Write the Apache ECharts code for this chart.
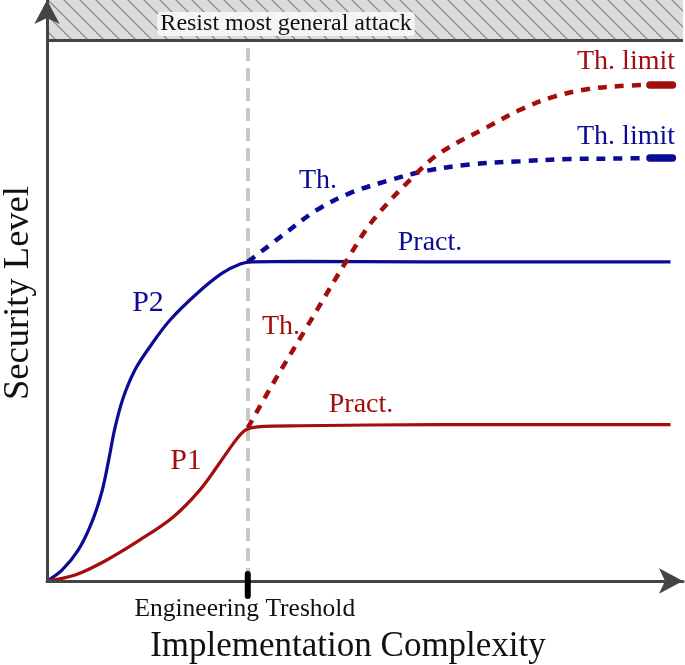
<!DOCTYPE html>
<html>
<head>
<meta charset="utf-8">
<script src="https://cdn.jsdelivr.net/npm/echarts@6/dist/echarts.min.js"></script>
<style>
html,body{margin:0;padding:0;background:#fff;}
#chart{width:685px;height:665px;}
</style>
</head>
<body>
<div id="chart"></div>
<script>
// ---- data (x: implementation complexity 0..100, y: security level, 100 = "resist most general attack") ----
const thresholdX = 32.2;
const bandLevel = 100;
const yTop = 107.4;
const xEnd = 102;

const p2Practical = [[0,0],[2.4,2.0],[5.0,5.7],[7.2,10.9],[8.8,16.5],[9.9,22.4],[10.9,28.3],[12.2,33.8],[14.1,39.0],[16.5,43.3],[19.7,48.2],[24.1,53.2],[28.1,56.9],[31.0,58.6],[32.9,59.0],[40.6,59.1],[60,59.0],[80,59.0],[100,59.0]];
const p1Practical = [[0,0],[4.5,1.1],[9.3,3.7],[14.9,7.6],[20.2,11.8],[24.5,16.8],[27.8,22.0],[30.2,25.9],[31.8,27.9],[33.8,28.5],[40.6,28.7],[63.0,28.9],[80,28.9],[100,28.9]];
const p1Theoretical = [[32.2,28.3],[36.3,36.6],[41.7,47.0],[48.1,59.3],[52.3,66.7],[58.7,74.7],[63.0,79.1],[70.6,83.9],[75.9,87.1],[81.2,89.5],[86.6,90.9],[91.9,91.5],[96.4,91.7]];
const p2Theoretical = [[32.2,59.0],[37.9,64.0],[43.3,68.6],[48.6,71.7],[55.0,74.1],[60.3,75.7],[67.8,77.0],[75.9,77.6],[83.9,78.0],[91.9,78.1],[96.4,78.2]];
const p1Limit = [[96.7,91.7],[100.3,91.7]];
const p2Limit = [[96.7,78.2],[100.3,78.2]];

const bandText = 'Resist most general attack';
const xTitle = 'Implementation Complexity';
const yTitle = 'Security Level';
const thresholdText = 'Engineering Treshold';

const blue = '#0b0b93';
const red = '#a30d0d';
const serif = '"Liberation Serif", "DejaVu Serif", serif';

// hatch pattern
const tile = document.createElement('canvas');
tile.width = 16; tile.height = 16;
const g = tile.getContext('2d');
g.fillStyle = '#dcdcdc'; g.fillRect(0,0,16,16);
g.strokeStyle = '#8e8e8e'; g.lineWidth = 1.3;
[-16,0,16].forEach(o => { g.beginPath(); g.moveTo(o,0); g.lineTo(o+16,16); g.stroke(); });

const chart = echarts.init(document.getElementById('chart'), null, {renderer:'canvas'});

const dashed = [9,8];
function lineSeries(data, color, opts) {
  return Object.assign({
    type:'line', data:data, showSymbol:false, symbol:'none', smooth:0.35, z:5,
    lineStyle:{color:color, width:3.2}, silent:true, animation:false, clip:false
  }, opts || {});
}

chart.setOption({
  animation:false,
  grid:{left:47, top:0, right:2, bottom:84, containLabel:false},
  xAxis:{type:'value', min:0, max:xEnd, splitLine:{show:false}, axisTick:{show:false}, axisLabel:{show:false},
    axisLine:{show:true, symbol:['none','arrow'], symbolSize:[19,24], lineStyle:{color:'#444', width:3}}, z:10},
  yAxis:{type:'value', min:0, max:yTop, splitLine:{show:false}, axisTick:{show:false}, axisLabel:{show:false},
    axisLine:{show:true, symbol:['none','arrow'], symbolSize:[19,24], lineStyle:{color:'#444', width:3}}, z:10},
  series:[
    {type:'line', data:[[0,0]], symbol:'none', lineStyle:{width:0}, silent:true, z:1,
      markArea:{silent:true, itemStyle:{color:{image:tile, repeat:'repeat'}, borderWidth:0},
        data:[[{coord:[0,bandLevel]},{coord:[xEnd,yTop]}]]},
      markLine:{silent:true, symbol:['none','none'], label:{show:false},
        data:[
          [{coord:[thresholdX,0], lineStyle:{color:'#c8c8c8', width:4, type:[13,7]}},{coord:[thresholdX,bandLevel]}],
          [{coord:[0,bandLevel], lineStyle:{color:'#444', width:3, type:'solid'}},{coord:[xEnd,bandLevel]}]
        ]}
    },
    lineSeries(p2Practical, blue),
    lineSeries(p1Practical, red),
    lineSeries(p2Theoretical, blue, {lineStyle:{color:blue, width:4.5, type:dashed}}),
    lineSeries(p1Theoretical, red, {lineStyle:{color:red, width:4.5, type:dashed}}),
    lineSeries(p2Limit, blue, {smooth:false, lineStyle:{color:blue, width:7.5, cap:'round'}}),
    lineSeries(p1Limit, red, {smooth:false, lineStyle:{color:red, width:7.5, cap:'round'}})
  ]
});

const thr = chart.convertToPixel({gridIndex:0}, [thresholdX, 0]);
function txt(x, y, text, size, color, extra) {
  return Object.assign({type:'text', x:x, y:y, z:50, silent:true,
    style:{text:text, font: size + 'px ' + serif, fill:color, align:'center', verticalAlign:'middle'}}, extra || {});
}
chart.setOption({
  graphic:[
    {type:'line', z:40, silent:true, shape:{x1:thr[0], y1:thr[1]-7, x2:thr[0], y2:thr[1]+15}, style:{stroke:'#000', lineWidth:6, lineCap:'round'}},
    {type:'text', x:286, y:24, z:50, silent:true, style:{text:bandText, font:'24px ' + serif, fill:'#111', align:'center', verticalAlign:'middle',
      backgroundColor:'rgba(245,245,245,0.95)', borderRadius:4, padding:[0,3,0,3]}},
    txt(thr[0]-3, 609, thresholdText, 25.5, '#111'),
    txt(348, 647, xTitle, 35, '#111'),
    txt(18, 293, yTitle, 36.5, '#111', {rotation:Math.PI/2}),
    txt(675, 62, 'Th. limit', 28, red, {style:{text:'Th. limit', font:'28px ' + serif, fill:red, align:'right', verticalAlign:'middle'}}),
    txt(675, 137, 'Th. limit', 28, blue, {style:{text:'Th. limit', font:'28px ' + serif, fill:blue, align:'right', verticalAlign:'middle'}}),
    txt(430, 243, 'Pract.', 28, blue),
    txt(361, 405, 'Pract.', 28, red),
    txt(318, 181, 'Th.', 28, blue),
    txt(281, 327, 'Th.', 28, red),
    txt(148, 303, 'P2', 30, blue),
    txt(186, 461, 'P1', 30, red)
  ]
});
</script>
</body>
</html>
